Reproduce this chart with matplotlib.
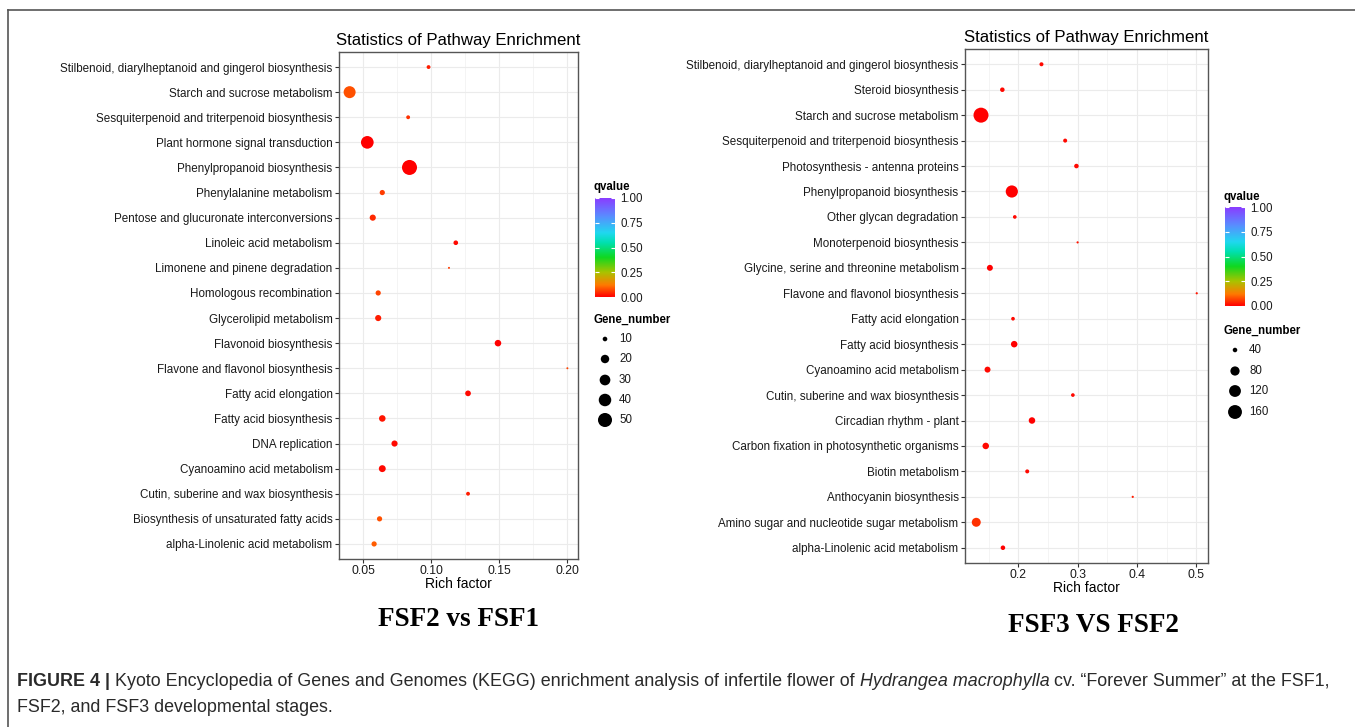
import numpy as np
import matplotlib
matplotlib.use("Agg")
import matplotlib.pyplot as plt
from matplotlib.colors import LinearSegmentedColormap, Normalize
from matplotlib.lines import Line2D

# figure is drawn on a pixel grid, 1355 x 727 at dpi 100
W, H = 1355, 727
DPI = 100
SANS = ["Liberation Sans", "DejaVu Sans"]
SERIF = ["Liberation Serif", "DejaVu Serif"]

# ---- FSF2 vs FSF1 (left panel), listed top -> bottom ----
left_pathways = [
    "Stilbenoid, diarylheptanoid and gingerol biosynthesis",
    "Starch and sucrose metabolism",
    "Sesquiterpenoid and triterpenoid biosynthesis",
    "Plant hormone signal transduction",
    "Phenylpropanoid biosynthesis",
    "Phenylalanine metabolism",
    "Pentose and glucuronate interconversions",
    "Linoleic acid metabolism",
    "Limonene and pinene degradation",
    "Homologous recombination",
    "Glycerolipid metabolism",
    "Flavonoid biosynthesis",
    "Flavone and flavonol biosynthesis",
    "Fatty acid elongation",
    "Fatty acid biosynthesis",
    "DNA replication",
    "Cyanoamino acid metabolism",
    "Cutin, suberine and wax biosynthesis",
    "Biosynthesis of unsaturated fatty acids",
    "alpha-Linolenic acid metabolism",
]
left_rich = [0.098, 0.040, 0.083, 0.053, 0.084, 0.064, 0.057, 0.118, 0.113, 0.061,
             0.061, 0.149, 0.200, 0.127, 0.064, 0.073, 0.064, 0.127, 0.062, 0.058]
left_genes = [9, 37, 9, 41, 57, 11, 13, 10, 8, 11,
              13, 14, 8, 12, 14, 13, 15, 9, 11, 11]
left_q = [0.03, 0.08, 0.05, 0.0, 0.0, 0.06, 0.04, 0.01, 0.06, 0.07,
          0.03, 0.0, 0.07, 0.01, 0.02, 0.01, 0.01, 0.03, 0.08, 0.09]
left_xticks = [0.05, 0.10, 0.15, 0.20]
left_xticklabels = ["0.05", "0.10", "0.15", "0.20"]
left_size_breaks = [10, 20, 30, 40, 50]

# ---- FSF3 vs FSF2 (right panel) ----
right_pathways = [
    "Stilbenoid, diarylheptanoid and gingerol biosynthesis",
    "Steroid biosynthesis",
    "Starch and sucrose metabolism",
    "Sesquiterpenoid and triterpenoid biosynthesis",
    "Photosynthesis - antenna proteins",
    "Phenylpropanoid biosynthesis",
    "Other glycan degradation",
    "Monoterpenoid biosynthesis",
    "Glycine, serine and threonine metabolism",
    "Flavone and flavonol biosynthesis",
    "Fatty acid elongation",
    "Fatty acid biosynthesis",
    "Cyanoamino acid metabolism",
    "Cutin, suberine and wax biosynthesis",
    "Circadian rhythm - plant",
    "Carbon fixation in photosynthetic organisms",
    "Biotin metabolism",
    "Anthocyanin biosynthesis",
    "Amino sugar and nucleotide sugar metabolism",
    "alpha-Linolenic acid metabolism",
]
right_rich = [0.239, 0.173, 0.137, 0.279, 0.298, 0.189, 0.194, 0.300, 0.152, 0.501,
              0.191, 0.193, 0.148, 0.292, 0.223, 0.145, 0.215, 0.393, 0.129, 0.174]
right_genes = [38, 40, 185, 38, 40, 126, 37, 35, 48, 35,
               37, 52, 48, 37, 52, 52, 38, 35, 77, 40]
right_q = [0.01, 0.01, 0.0, 0.01, 0.01, 0.0, 0.01, 0.02, 0.0, 0.02,
           0.01, 0.0, 0.01, 0.01, 0.0, 0.01, 0.01, 0.03, 0.05, 0.0]
right_xticks = [0.2, 0.3, 0.4, 0.5]
right_xticklabels = ["0.2", "0.3", "0.4", "0.5"]
right_size_breaks = [40, 80, 120, 160]

q_ticks = [0.0, 0.25, 0.5, 0.75, 1.0]
q_ticklabels = ["0.00", "0.25", "0.50", "0.75", "1.00"]

# rainbow-ish qvalue gradient, red at 0 -> violet at 1
qcmap = LinearSegmentedColormap.from_list("qv", [
    (0.00, "#FF0000"), (0.12, "#FF7A00"), (0.25, "#A8C400"), (0.40, "#10D820"),
    (0.55, "#00E0B0"), (0.65, "#20D8F0"), (0.82, "#5A8CFF"), (1.00, "#8A3CFF")])
qnorm = Normalize(0, 1)

LEG_FS = 8.3


def px_box(x0, y0, x1, y1):
    """pixel box (top-left origin) -> fig fraction rect"""
    return [x0 / W, 1 - y1 / H, (x1 - x0) / W, (y1 - y0) / H]


def dot_area(n, nmin, nmax, a, b):
    # ggplot-like area scale: diameter grows with sqrt of rescaled count
    n = np.asarray(n, dtype=float)
    d_px = a + b * np.sqrt(np.clip((n - nmin) / (nmax - nmin), 0, 1))
    return (d_px * 72.0 / DPI) ** 2


def enrich_panel(ax, pathways, rich, genes, q, xlim, xticks, xticklabels, minor, size_args):
    ypos = np.arange(len(pathways), 0, -1)
    ax.set_axisbelow(True)
    ax.scatter(rich, ypos, s=dot_area(genes, *size_args), c=q, cmap=qcmap, norm=qnorm,
               edgecolors="none", zorder=3)
    ax.set_xlim(*xlim)
    ax.set_ylim(0.4, len(pathways) + 0.6)
    ax.set_yticks(ypos)
    ax.set_yticklabels(pathways, fontsize=8.4, family=SANS, color="#1a1a1a")
    ax.set_xticks(xticks)
    ax.set_xticklabels(xticklabels, fontsize=8.8, family=SANS, color="#1a1a1a")
    ax.set_xticks(minor, minor=True)
    ax.tick_params(axis="both", which="major", length=2.6, width=0.8, color="#333333", pad=2)
    ax.tick_params(axis="x", which="minor", length=0)
    ax.grid(True, which="major", color="#EBEBEB", lw=0.8)
    ax.grid(True, which="minor", axis="x", color="#F2F2F2", lw=0.6)
    for sp in ax.spines.values():
        sp.set_color("#555555")
        sp.set_linewidth(1.0)
    ax.set_xlabel("Rich factor", fontsize=10, family=SANS, labelpad=0)
    ax.set_title("Statistics of Pathway Enrichment", fontsize=12.1, family=SANS, pad=5)


def legends(over, fig, x0, qtitle_y, bar_y0, bar_y1, gtitle_y, dot_ys, breaks, size_args):
    over.text(x0, qtitle_y, "qvalue", fontsize=LEG_FS, fontweight="bold", family=SANS,
              ha="left", va="center")
    cax = fig.add_axes(px_box(x0 + 1, bar_y0, x0 + 21, bar_y1))
    grad = np.linspace(0, 1, 256)[:, None]
    cax.imshow(grad, aspect="auto", cmap=qcmap, origin="lower", extent=[0, 1, 0, 1])
    cax.hlines(q_ticks, 0, 0.2, color="white", lw=0.8)
    cax.hlines(q_ticks, 0.8, 1, color="white", lw=0.8)
    cax.set_xlim(0, 1)
    cax.set_ylim(0, 1)
    cax.set_xticks([])
    cax.yaxis.tick_right()
    cax.set_yticks(q_ticks)
    cax.set_yticklabels(q_ticklabels, fontsize=LEG_FS, family=SANS, color="#1a1a1a")
    cax.tick_params(axis="y", length=0, pad=4)
    for sp in cax.spines.values():
        sp.set_visible(False)

    over.text(x0, gtitle_y, "Gene_number", fontsize=LEG_FS, fontweight="bold", family=SANS,
              ha="left", va="center")
    over.scatter([x0 + 11] * len(breaks), dot_ys, s=dot_area(breaks, *size_args),
                 color="black", edgecolors="none")
    for b, yy in zip(breaks, dot_ys):
        over.text(x0 + 25, yy, str(b), fontsize=LEG_FS, family=SANS, ha="left", va="center",
                  color="#1a1a1a")


fig = plt.figure(figsize=(W / DPI, H / DPI), dpi=DPI)
fig.patch.set_facecolor("white")

# full-figure overlay in pixel coords for the legend dots, frame and caption
over = fig.add_axes([0, 0, 1, 1], zorder=-1)
over.set_xlim(0, W)
over.set_ylim(H, 0)
over.axis("off")

left_size = (8, 57, 2.0, 13.0)
right_size = (35, 185, 2.2, 12.8)

axL = fig.add_axes(px_box(339, 52, 578, 559))
enrich_panel(axL, left_pathways, left_rich, left_genes, left_q, (0.0322, 0.2078),
             left_xticks, left_xticklabels, [0.075, 0.125, 0.175], left_size)

axR = fig.add_axes(px_box(965, 49, 1208, 563))
enrich_panel(axR, right_pathways, right_rich, right_genes, right_q, (0.110, 0.520),
             right_xticks, right_xticklabels, [0.15, 0.25, 0.35, 0.45], right_size)

legends(over, fig, 594, 187, 198, 297, 320, [339, 359, 380, 400, 420],
        left_size_breaks, left_size)
legends(over, fig, 1224, 197, 207, 306, 331, [350, 371, 391, 412],
        right_size_breaks, right_size)

# panel tags
over.text(459, 620, "FSF2 vs FSF1", fontsize=19.5, fontweight="bold", family=SERIF,
          ha="center", va="center")
over.text(1093, 625, "FSF3 VS FSF2", fontsize=19.5, fontweight="bold", family=SERIF,
          ha="center", va="center")

# frame lines (top + left only)
over.add_line(Line2D([8, W], [10, 10], color="#555555", lw=1.2))
over.add_line(Line2D([8, 8], [10, H], color="#555555", lw=1.2))

# caption, pieced together so bold / italic runs sit inline
cap1 = [
    ("FIGURE 4 | ", dict(fontweight="bold")),
    ("Kyoto Encyclopedia of Genes and Genomes (KEGG) enrichment analysis of infertile flower of ", {}),
    ("Hydrangea macrophylla", dict(fontstyle="italic")),
    (" cv. \u201cForever Summer\u201d at the FSF1,", {}),
]
cap2 = [("FSF2, and FSF3 developmental stages.", {})]

renderer = fig.canvas.get_renderer()
inv = over.transData.inverted()
for pieces, yy in [(cap1, 681), (cap2, 707)]:
    x = 17
    for txt, kw in pieces:
        t = over.text(x, yy, txt, fontsize=12.9, family=SANS, ha="left", va="center",
                      color="#2a2a2a", **kw)
        bb = t.get_window_extent(renderer)
        x = inv.transform((bb.x1, bb.y0))[0]

fig.savefig("out.png", dpi=DPI, facecolor="white")
